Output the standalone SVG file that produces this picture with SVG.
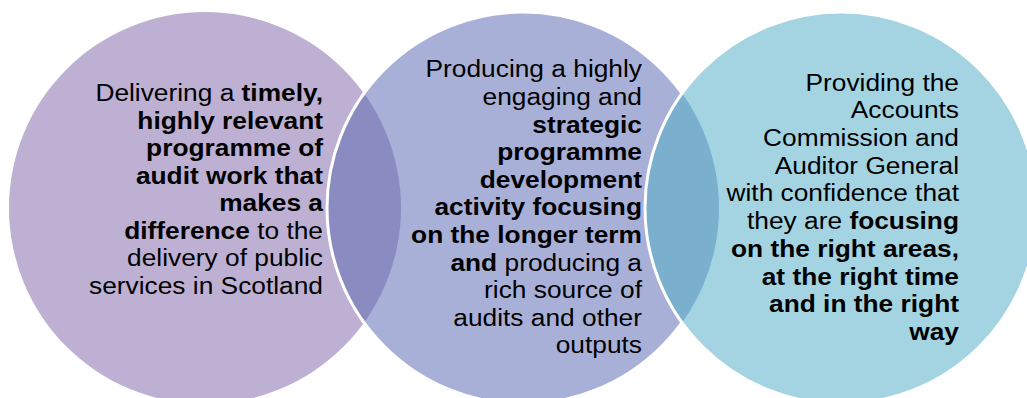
<svg xmlns="http://www.w3.org/2000/svg" width="1027" height="398" viewBox="0 0 1027 398">
  <style>
    .lbl { font-family: "Liberation Sans", Arial, sans-serif; font-size: 23.5px; fill: #000; text-anchor: end; }
    .b { font-weight: bold; }
    .edge { fill: none; stroke: #fff; stroke-width: 3; }
  </style>
  <defs>
    <clipPath id="clip-c1"><circle cx="205" cy="208" r="196"/></clipPath>
    <clipPath id="clip-c2"><circle cx="523" cy="208" r="196"/></clipPath>
  </defs>
  <rect width="1027" height="398" fill="#fff"/>

  <g id="node-1">
    <circle cx="205" cy="208" r="196" fill="#BDB0D2"/>
    <!-- lines kept without whitespace between them so the end anchor stays exact -->
    <text class="lbl" transform="translate(323 0) scale(1.12 1)"><tspan x="0" y="101.5">Delivering a <tspan class="b">timely,</tspan></tspan><tspan x="0" y="129" class="b">highly relevant</tspan><tspan x="0" y="156.5" class="b">programme of</tspan><tspan x="0" y="184" class="b">audit work that</tspan><tspan x="0" y="211.5" class="b">makes a</tspan><tspan x="0" y="239"><tspan class="b">difference</tspan> to the</tspan><tspan x="0" y="266.5">delivery of public</tspan><tspan x="0" y="294">services in Scotland</tspan></text>
  </g>

  <g id="node-2">
    <circle cx="523" cy="208" r="196" fill="#A8B0D8"/>
    <!-- shared area with the first circle -->
    <circle cx="523" cy="208" r="196" fill="#8A8BC0" clip-path="url(#clip-c1)"/>
    <circle class="edge" cx="523" cy="208" r="196"/>
    <text class="lbl" transform="translate(642 0) scale(1.12 1)"><tspan x="0" y="77.5">Producing a highly</tspan><tspan x="0" y="105">engaging and</tspan><tspan x="0" y="132.6" class="b">strategic</tspan><tspan x="0" y="160.2" class="b">programme</tspan><tspan x="0" y="187.8" class="b">development</tspan><tspan x="0" y="215.4" class="b">activity focusing</tspan><tspan x="0" y="243" class="b">on the longer term</tspan><tspan x="0" y="270.6"><tspan class="b">and</tspan> producing a</tspan><tspan x="0" y="298.2">rich source of</tspan><tspan x="0" y="325.8">audits and other</tspan><tspan x="0" y="353.4">outputs</tspan></text>
  </g>

  <g id="node-3">
    <circle cx="841" cy="208" r="196" fill="#A4D4E2"/>
    <!-- shared area with the middle circle -->
    <circle cx="841" cy="208" r="196" fill="#7AAFCE" clip-path="url(#clip-c2)"/>
    <circle class="edge" cx="841" cy="208" r="196"/>
    <text class="lbl" transform="translate(959 0) scale(1.12 1)"><tspan x="0" y="90.7">Providing the</tspan><tspan x="0" y="118.4">Accounts</tspan><tspan x="0" y="146.1">Commission and</tspan><tspan x="0" y="173.8">Auditor General</tspan><tspan x="0" y="201.5">with confidence that</tspan><tspan x="0" y="229.2">they are <tspan class="b">focusing</tspan></tspan><tspan x="0" y="256.9" class="b">on the right areas,</tspan><tspan x="0" y="284.6" class="b">at the right time</tspan><tspan x="0" y="312.3" class="b">and in the right</tspan><tspan x="0" y="340" class="b">way</tspan></text>
  </g>

  <g id="connectors"/>
</svg>
